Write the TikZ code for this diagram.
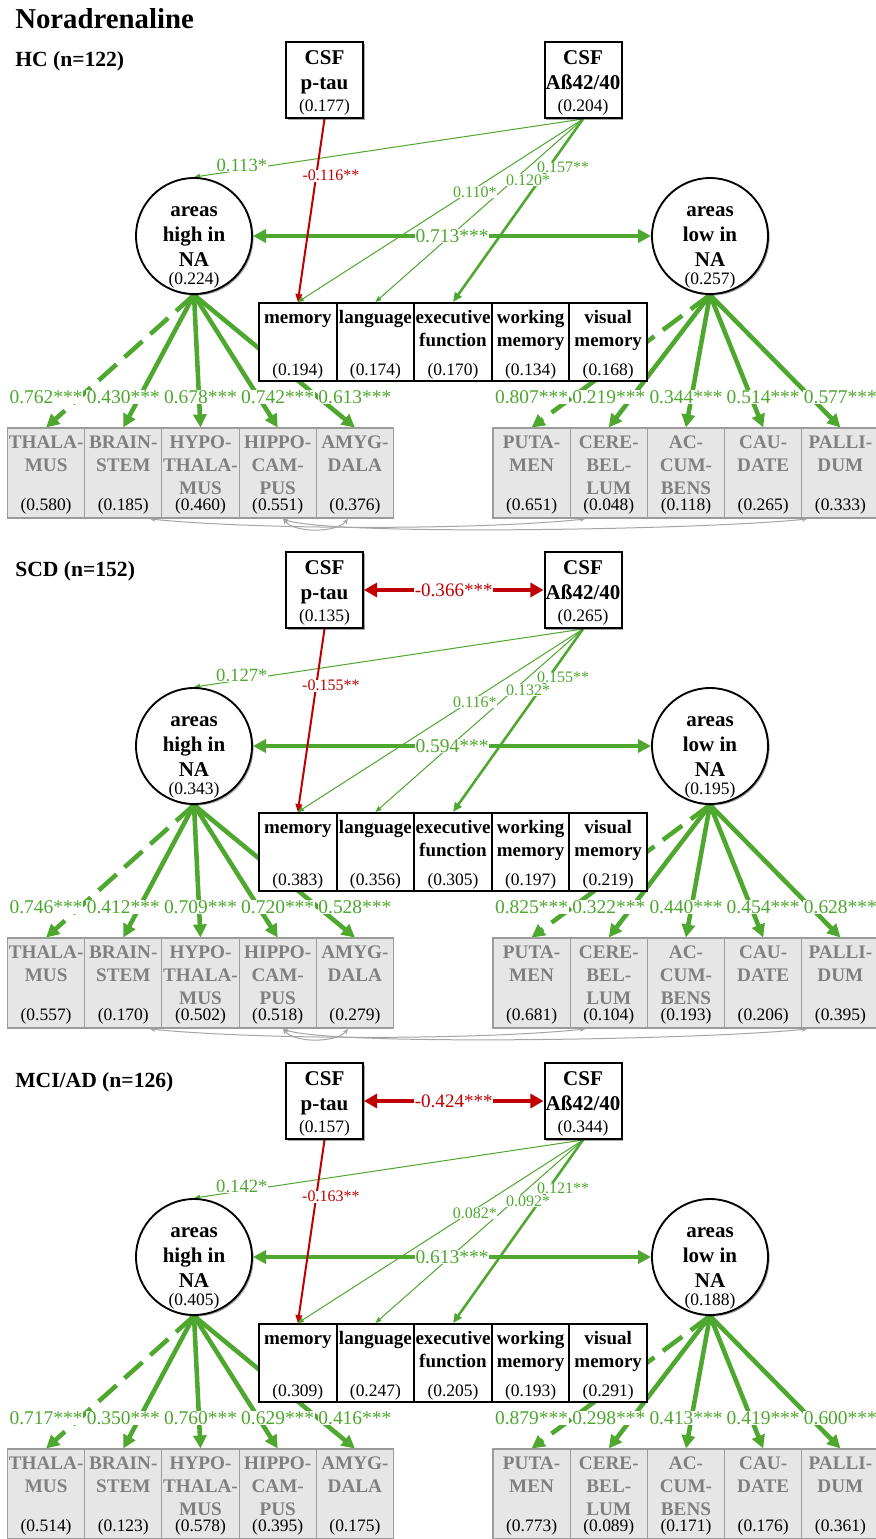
\documentclass[tikz,border=0pt]{standalone}
\usepackage{fontspec}
\setmainfont{Liberation Serif}
\usetikzlibrary{arrows.meta,shadows,calc}
\pgfdeclarelayer{bg}
\pgfsetlayers{bg,main}
\definecolor{grn}{RGB}{78,167,46}
\definecolor{rd}{RGB}{192,0,0}
\definecolor{regfill}{RGB}{230,230,230}
\definecolor{regline}{RGB}{155,155,155}
\definecolor{regtext}{RGB}{128,128,128}
\definecolor{covline}{RGB}{165,165,165}
\newcommand\fs[2]{\fontsize{#1}{#2}\selectfont}
\tikzset{
  shd/.style={drop shadow={shadow xshift=1.2pt,shadow yshift=-1.2pt,opacity=0.35,fill=black}},
  csfbox/.style={draw=black,line width=1.5pt,fill=white,minimum width=57.75pt,minimum height=57pt,inner sep=0pt,shd},
  csfname/.style={anchor=north,align=center,inner sep=0pt,font=\bfseries\fs{15.75}{18.75}},
  val/.style={anchor=base,inner sep=0pt,font=\fs{13.1}{15}},
  circ/.style={circle,draw=black,line width=1.4pt,fill=white,minimum size=87pt,inner sep=0pt,shd},
  cog/.style={draw=black,line width=1.5pt,fill=white,minimum width=58.2pt,minimum height=58.5pt,inner sep=0pt},
  cogname/.style={anchor=north,align=center,inner sep=0pt,font=\bfseries\fs{14.25}{17.25}},
  reg/.style={draw=regline,line width=0.8pt,fill=regfill,minimum width=57.9pt,minimum height=67.5pt,inner sep=0pt},
  regname/.style={anchor=north,align=center,inner sep=0pt,text=regtext,font=\bfseries\fs{14.4}{17.25}},
  grptitle/.style={anchor=base west,inner sep=0pt,font=\bfseries\fs{16.2}{19}},
  bigtitle/.style={anchor=base west,inner sep=0pt,font=\bfseries\fs{21.6}{25}},
  load/.style={draw=grn,line width=3.4pt,-{Triangle[length=9.8pt,width=9.8pt]}},
  dashload/.style={load,dash pattern=on 18pt off 8pt},
  loadlbl/.style={text=grn,fill=white,inner sep=0.6pt,font=\fs{14.6}{16}},
  corr/.style={draw=grn,line width=3.4pt,{Triangle[length=9.8pt,width=9.8pt]}-{Triangle[length=9.8pt,width=9.8pt]}},
  cov/.style={draw=rd,line width=3.4pt,{Triangle[length=9.8pt,width=10.5pt]}-{Triangle[length=9.8pt,width=10.5pt]}},
  covlbl/.style={text=rd,fill=white,inner sep=0.6pt,font=\fs{14.3}{16}},
  thinarr/.style={draw=grn,line width=0.75pt,-{Triangle[length=4.5pt,width=3.5pt]}},
  midarr/.style={draw=grn,line width=1.9pt,-{Triangle[length=7pt,width=6pt]}},
  redarr/.style={draw=rd,line width=1.5pt,-{Triangle[length=6pt,width=5pt]}},
  thinlbl/.style={text=grn,fill=white,inner sep=0.4pt,font=\fs{12}{14}},
  redlbl/.style={text=rd,fill=white,inner sep=0.4pt,font=\fs{12}{14}},
  resid/.style={draw=covline,line width=0.75pt,{Stealth[length=4pt,width=3.5pt]}-{Stealth[length=4pt,width=3.5pt]}},
}
\newcommand\NApanel[2]{%
\node[grptitle] (#1title) at (15,66+#2) {\Ttitle};
% CSF boxes
\node[csfbox] (#1pt) at (324.5,80+#2) {};
\node[csfbox] (#1ab) at (583,80+#2) {};
\node[csfname] (#1ptn) at (324.5,49+#2) {\rule{0pt}{11.25pt}CSF\\p-tau};
\node[csfname] (#1abn) at (583,49+#2) {\rule{0pt}{11.25pt}CSF\\Aß42/40};
\node[val] (#1ptv) at (324.5,111+#2) {\Vpt};
\node[val] (#1abv) at (583,111+#2) {\Vab};
% latent circles
\node[circ] (#1hi) at (194,236+#2) {};
\node[circ] (#1lo) at (710,236+#2) {};
\node[csfname] (#1hin) at (194,201+#2) {\rule{0pt}{11.25pt}areas\\high in\\NA};
\node[csfname] (#1lon) at (710,201+#2) {\rule{0pt}{11.25pt}areas\\low in\\NA};
\node[val] (#1hiv) at (194,284+#2) {\Vhi};
\node[val] (#1lov) at (710,284+#2) {\Vlo};
% cognitive boxes
\foreach \i/\nm in {1/memory,2/language,3/{executive\\function},4/{working\\memory},5/{visual\\memory}}{
  \node[cog] (#1C\i) at ({297.8+77.6*(\i-1)},342+#2) {};
  \node[cogname] (#1Cn\i) at ({297.8+77.6*(\i-1)},309+#2) {\rule{0pt}{10.5pt}\nm};
}
\foreach \i/\vv in \Vcog {\node[val] (#1Cv\i) at ({297.8+77.6*(\i-1)},375+#2) {(\vv)};}
% region boxes
\foreach \i/\nm in {1/{THALA-\\MUS},2/{BRAIN-\\STEM},3/{HYPO-\\THALA-\\MUS},4/{HIPPO-\\CAM-\\PUS},5/{AMYG-\\DALA}}{
  \node[reg] (#1L\i) at ({46.1+77.2*(\i-1)},473+#2) {};
  \node[regname] (#1Ln\i) at ({46.1+77.2*(\i-1)},434+#2) {\rule{0pt}{10.5pt}\nm};
}
\foreach \i/\nm in {1/{PUTA-\\MEN},2/{CERE-\\BEL-\\LUM},3/{AC-\\CUM-\\BENS},4/{CAU-\\DATE},5/{PALLI-\\DUM}}{
  \node[reg] (#1R\i) at ({531.6+77.2*(\i-1)},473+#2) {};
  \node[regname] (#1Rn\i) at ({531.6+77.2*(\i-1)},434+#2) {\rule{0pt}{10.5pt}\nm};
}
\foreach \i/\LD/\vv in \Lleft {
  \node[val] (#1Lv\i) at ({46.1+77.2*(\i-1)},510+#2) {(\vv)};
  \node[loadlbl] (#1Ll\i) at ({46.1+77.2*(\i-1)},397+#2) {\LD};
}
\foreach \i/\LD/\vv in \Lright {
  \node[val] (#1Rv\i) at ({531.6+77.2*(\i-1)},510+#2) {(\vv)};
  \node[loadlbl] (#1Rl\i) at ({531.6+77.2*(\i-1)},397+#2) {\LD};
}
% connectors
\begin{pgfonlayer}{bg}
\foreach \i/\st in {1/dashload,2/load,3/load,4/load,5/load}{
  \draw[\st] (#1hi.south) -- (#1L\i.north);
  \draw[\st] (#1lo.south) -- (#1R\i.north);
}
\draw[corr] (#1hi.east) -- (#1lo.west);
\draw[thinarr] (#1ab.south) -- (#1hi.north);
\draw[thinarr] (#1ab.south) -- (#1C1.north);
\draw[thinarr] (#1ab.south) -- (#1C2.north);
\draw[midarr] (#1ab.south) -- (#1C3.north);
\draw[redarr] (#1pt.south) -- (#1C1.north);
\ifx\Lcov\empty\else \draw[cov] (#1pt.east) -- (#1ab.west);\fi
\ifnum\Resid=1
  \coordinate (#1ra) at (150,519+#2);
  \coordinate (#1rb) at (585,519+#2);
  \coordinate (#1rc) at (283,519+#2);
  \coordinate (#1rd) at (348,519+#2);
  \coordinate (#1re) at (807,519+#2);
  \draw[resid] (#1ra) .. controls (260,530+#2) and (480,530+#2) .. (#1rb);
  \draw[resid] (#1rc) .. controls (295,533+#2) and (336,533+#2) .. (#1rd);
  \draw[resid] (#1rc) .. controls (330,536+#2) and (700,530+#2) .. (#1re);
\fi
\end{pgfonlayer}
% path labels
\path (#1ab.south) -- (#1hi.north) node[thinlbl,font=\fs{14}{16},pos=0.877,yshift=3.4pt] (#1lh) {\Lhi};
\path (#1ab.south) -- (#1C1.north) node[thinlbl,pos=0.4,xshift=4.5pt] (#1lm) {\Lmem};
\path (#1ab.south) -- (#1C2.north) node[thinlbl,pos=0.335,xshift=11pt] (#1ll) {\Llang};
\path (#1ab.south) -- (#1C3.north) node[thinlbl,pos=0.265,xshift=11pt] (#1le) {\Lexec};
\path (#1pt.south) -- (#1C1.north) node[redlbl,pos=0.31,xshift=11pt] (#1lp) {\Lpt};
\node[loadlbl] (#1lc) at ($(#1hi.east)!0.5!(#1lo.west)$) {\Lcorr};
\ifx\Lcov\empty\else \node[covlbl] (#1lv) at ($(#1pt.east)!0.5!(#1ab.west)$) {\Lcov};\fi
}
\begin{document}
\begin{tikzpicture}[x=0.75pt,y=-0.75pt]
\useasboundingbox (0,0) rectangle (875,1539);
\begin{pgfonlayer}{bg}
\fill[white] (0,0) rectangle (875,1539);
\end{pgfonlayer}
\node[bigtitle] (maintitle) at (15,28) {Noradrenaline};
% ---------- HC
\def\Ttitle{HC (n=122)}
\def\Vpt{(0.177)}\def\Vab{(0.204)}\def\Vhi{(0.224)}\def\Vlo{(0.257)}
\def\Lcorr{0.713***}\def\Lcov{}\def\Resid{1}
\def\Lhi{0.113*}\def\Lpt{-0.116**}\def\Lmem{0.110*}\def\Llang{0.120*}\def\Lexec{0.157**}
\def\Vcog{1/0.194,2/0.174,3/0.170,4/0.134,5/0.168}
\def\Lleft{1/0.762***/0.580,2/0.430***/0.185,3/0.678***/0.460,4/0.742***/0.551,5/0.613***/0.376}
\def\Lright{1/0.807***/0.651,2/0.219***/0.048,3/0.344***/0.118,4/0.514***/0.265,5/0.577***/0.333}
\NApanel{a}{0}
% ---------- SCD
\def\Ttitle{SCD (n=152)}
\def\Vpt{(0.135)}\def\Vab{(0.265)}\def\Vhi{(0.343)}\def\Vlo{(0.195)}
\def\Lcorr{0.594***}\def\Lcov{-0.366***}\def\Resid{1}
\def\Lhi{0.127*}\def\Lpt{-0.155**}\def\Lmem{0.116*}\def\Llang{0.132*}\def\Lexec{0.155**}
\def\Vcog{1/0.383,2/0.356,3/0.305,4/0.197,5/0.219}
\def\Lleft{1/0.746***/0.557,2/0.412***/0.170,3/0.709***/0.502,4/0.720***/0.518,5/0.528***/0.279}
\def\Lright{1/0.825***/0.681,2/0.322***/0.104,3/0.440***/0.193,4/0.454***/0.206,5/0.628***/0.395}
\NApanel{b}{510}
% ---------- MCI/AD
\def\Ttitle{MCI/AD (n=126)}
\def\Vpt{(0.157)}\def\Vab{(0.344)}\def\Vhi{(0.405)}\def\Vlo{(0.188)}
\def\Lcorr{0.613***}\def\Lcov{-0.424***}\def\Resid{0}
\def\Lhi{0.142*}\def\Lpt{-0.163**}\def\Lmem{0.082*}\def\Llang{0.092*}\def\Lexec{0.121**}
\def\Vcog{1/0.309,2/0.247,3/0.205,4/0.193,5/0.291}
\def\Lleft{1/0.717***/0.514,2/0.350***/0.123,3/0.760***/0.578,4/0.629***/0.395,5/0.416***/0.175}
\def\Lright{1/0.879***/0.773,2/0.298***/0.089,3/0.413***/0.171,4/0.419***/0.176,5/0.600***/0.361}
\NApanel{c}{1021}
\end{tikzpicture}
\end{document}
